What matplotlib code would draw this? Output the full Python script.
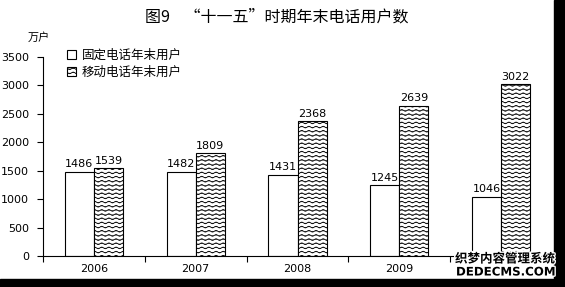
import warnings
import numpy as np
import matplotlib
matplotlib.use('Agg')
import matplotlib.pyplot as plt
import matplotlib.hatch as mhatch
import matplotlib.patheffects as pe
from matplotlib.path import Path
from matplotlib.patches import Rectangle

warnings.filterwarnings('ignore')
plt.rcParams['font.family'] = ['Noto Sans CJK SC', 'DejaVu Sans']
plt.rcParams['hatch.linewidth'] = 0.6

# data
years = ['2006', '2007', '2008', '2009', '']
fixed = [1486, 1482, 1431, 1245, 1046]
mobile = [1539, 1809, 2368, 2639, 3022]
fixed_label = '固定电话年末用户'
mobile_label = '移动电话年末用户'
title = '图9    \u201c十一五\u201d时期年末电话用户数'
unit = '万户'


# wavy hatch ("~") for the mobile bars
class WaveHatch(mhatch.HatchPatternBase):
    def __init__(self, hatch, density):
        self.num_lines = int(hatch.count('~') * density)
        self.num_seg = 14 * 8
        self.num_vertices = self.num_lines * (self.num_seg + 1)

    def set_vertices_and_codes(self, vertices, codes):
        t = np.linspace(0, 1, self.num_seg + 1)
        for i in range(self.num_lines):
            y0 = (i + 0.5) / self.num_lines
            a = i * (self.num_seg + 1)
            b = a + self.num_seg + 1
            vertices[a:b, 0] = t
            vertices[a:b, 1] = y0 + 0.008 * np.sin(2 * np.pi * 14 * t)
            codes[a:b] = Path.LINETO
            codes[a] = Path.MOVETO


mhatch._hatch_types.append(WaveHatch)

fig = plt.figure(figsize=(5.65, 2.87), dpi=100)
fig.patch.set_facecolor('white')
fig.patches.append(Rectangle((554 / 565, 0), 1, 1, transform=fig.transFigure,
                             color='black', zorder=0))
fig.patches.append(Rectangle((0, 0), 1, 8 / 287, transform=fig.transFigure,
                             color='black', zorder=0))

ax = fig.add_axes([43 / 565, 31 / 287, 509 / 565, 199 / 287])
ax.patch.set_alpha(0)

x = np.arange(len(years)) + 0.5
w = 0.285
b1 = ax.bar(x - w / 2, fixed, w, color='white', edgecolor='black', linewidth=0.8,
            label=fixed_label)
b2 = ax.bar(x + w / 2, mobile, w, color='white', edgecolor='black', linewidth=0.8,
            hatch='~~~~', label=mobile_label)

for bars, vals in ((b1, fixed), (b2, mobile)):
    for r, v in zip(bars, vals):
        ax.text(r.get_x() + r.get_width() / 2, v + 45, str(v), ha='center',
                va='bottom', fontsize=8, family='DejaVu Sans')

ax.set_xlim(0, 5)
ax.set_ylim(0, 3500)
ax.set_yticks(np.arange(0, 3501, 500))
ax.set_xticks(np.arange(0, 6))
ax.set_xticklabels([])
ax.set_xticks(x, minor=True)
ax.set_xticklabels(years, minor=True)
ax.tick_params(axis='x', which='major', length=4, direction='out', width=0.8)
ax.tick_params(axis='x', which='minor', length=0, pad=6, labelsize=8)
ax.tick_params(axis='y', length=4, width=0.8, pad=6, labelsize=8)
for lab in ax.get_xticklabels(minor=True) + ax.get_yticklabels():
    lab.set_family('DejaVu Sans')
for s in ('top', 'right'):
    ax.spines[s].set_visible(False)
for s in ('left', 'bottom'):
    ax.spines[s].set_linewidth(0.8)

ax.legend(loc='upper left', bbox_to_anchor=(0.037, 1.065), frameon=False,
          fontsize=9, handlelength=0.7, handleheight=0.7, handletextpad=0.5,
          labelspacing=0.3, borderaxespad=0)

fig.text(277 / 565, 1 - 17 / 287, title, ha='center', va='center', fontsize=11.5)
fig.text(39 / 565, 1 - 38 / 287, unit, ha='center', va='center', fontsize=8)

wm = [pe.withStroke(linewidth=2, foreground='white')]
fig.text(455 / 565, 1 - 259 / 287, '织梦内容管理系统', ha='left', va='center',
         fontsize=9, fontweight='bold', path_effects=wm)
fig.text(456 / 565, 1 - 272 / 287, 'DEDECMS.COM', ha='left', va='center',
         fontsize=8.5, fontweight='bold', family='DejaVu Sans', path_effects=wm)

fig.savefig('out.png', dpi=100)
